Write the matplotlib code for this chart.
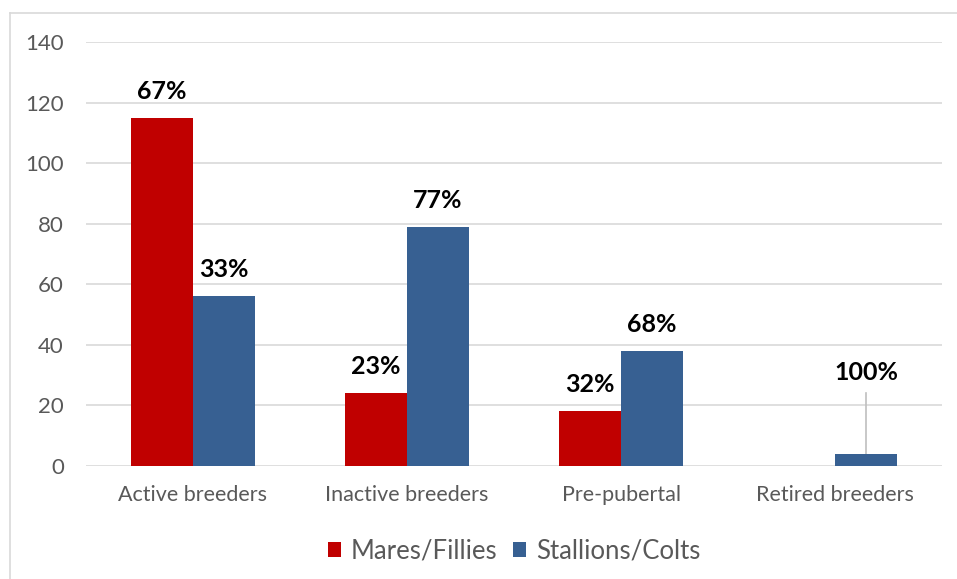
import matplotlib.pyplot as plt
import numpy as np

categories = ['Active breeders', 'Inactive breeders', 'Pre-pubertal', 'Retired breeders']
mares = [115, 24, 18, 0]
stallions = [56, 79, 38, 4]
mares_pct = ['67%', '23%', '32%', '']
stallions_pct = ['33%', '77%', '68%', '100%']

red = '#C00000'
blue = '#376092'

plt.rcParams['font.family'] = ['Lato', 'DejaVu Sans']

fig = plt.figure(figsize=(9.57, 5.79), dpi=100)
ax = fig.add_axes([86 / 957, 1 - 466 / 579, (942 - 86) / 957, (466 - 42) / 579])

x = np.arange(len(categories))
w = 0.29
b1 = ax.bar(x - w / 2, mares, w, color=red, label='Mares/Fillies', zorder=3)
b2 = ax.bar(x + w / 2, stallions, w, color=blue, label='Stallions/Colts', zorder=3)

fs = 18
for rect, lab in zip(b1, mares_pct):
    if lab:
        ax.text(rect.get_x() + rect.get_width() / 2, rect.get_height() + 5, lab,
                ha='center', va='bottom', fontsize=fs, fontweight='bold')
for i, (rect, lab) in enumerate(zip(b2, stallions_pct)):
    cx = rect.get_x() + rect.get_width() / 2
    if categories[i] == 'Retired breeders':
        ty = 25
        ax.plot([cx, cx], [rect.get_height(), ty - 1], color='#BFBFBF', lw=1.2, zorder=2)
        ax.text(cx, ty + 2, lab, ha='center', va='bottom', fontsize=fs, fontweight='bold')
    else:
        ax.text(cx, rect.get_height() + 5, lab, ha='center', va='bottom',
                fontsize=fs, fontweight='bold')

ax.set_xlim(-0.5, len(categories) - 0.5)
ax.set_ylim(0, 140)
ax.set_yticks(range(0, 141, 20))
ax.set_xticks(x)
ax.set_xticklabels(categories)
ax.grid(axis='y', color='#D9D9D9', lw=1.2, zorder=0)
for s in ax.spines.values():
    s.set_visible(False)
ax.tick_params(axis='x', length=0, labelsize=15.5, colors='#595959', pad=14)
ax.tick_params(axis='y', length=0, labelsize=16, colors='#595959', pad=16)

leg = ax.legend(loc='lower center', bbox_to_anchor=(514 / 957, 0.0), bbox_transform=fig.transFigure,
                ncol=2, frameon=False, fontsize=18.5, handlelength=0.5, handleheight=0.5,
                handletextpad=0.4, columnspacing=0.6, borderaxespad=0.2)
for t in leg.get_texts():
    t.set_color('#595959')

# chart frame
fig.add_artist(plt.Line2D([10 / 957, 10 / 957], [0, 1 - 13 / 579], color='#D9D9D9', lw=1.2))
fig.add_artist(plt.Line2D([10 / 957, 1], [1 - 13 / 579, 1 - 13 / 579], color='#D9D9D9', lw=1.2))

fig.savefig('out.png', dpi=100)
